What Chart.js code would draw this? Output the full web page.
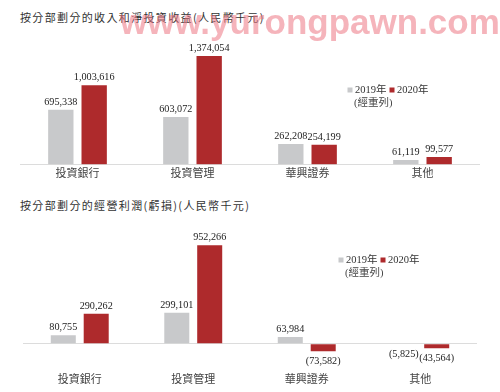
<!DOCTYPE html>
<html>
<head>
<meta charset="utf-8">
<script src="https://cdn.jsdelivr.net/npm/chart.js@4.4.1/dist/chart.umd.min.js"></script>
<style>
  html, body { margin: 0; padding: 0; background: #fff; }
  #page { position: relative; width: 500px; height: 392px; overflow: hidden; }
  .title {
    position: absolute; left: 20px; font: 11px "Noto Sans CJK TC", "Noto Sans CJK SC", sans-serif;
    letter-spacing: 1.35px; color: #333; line-height: 14px; white-space: nowrap;
  }
  canvas { position: absolute; left: 0; }
  #mark {
    position: absolute; left: 120px; top: 2px; font: bold 35px "Liberation Sans", Arial, sans-serif;
    color: rgba(236, 118, 132, 0.55); white-space: nowrap; pointer-events: none;
  }
</style>
</head>
<body>
<div id="page">
  <div class="title" id="t1" style="top:10px"></div>
  <canvas id="c1" width="500" height="190" style="top:0"></canvas>
  <div class="title" id="t2" style="top:198px"></div>
  <canvas id="c2" width="500" height="202" style="top:190px"></canvas>
  <div id="mark">www.yurongpawn.com</div>
</div>
<script>
// data (RMB thousand)
const categories = ['投資銀行', '投資管理', '華興證券', '其他'];
const revenue2019 = [695338, 603072, 262208, 61119];
const revenue2020 = [1003616, 1374054, 254199, 99577];
const profit2019 = [80755, 299101, 63984, -5825];
const profit2020 = [290262, 952266, -73582, -43564];
const seriesLabels = ['2019年', '2020年'];
const restatedNote = '(經重列)';
const titleRevenue = '按分部劃分的收入和淨投資收益(人民幣千元)';
const titleProfit = '按分部劃分的經營利潤(虧損)(人民幣千元)';

const GREY = '#c8c9cb';
const RED = '#ae2a2c';
const numFont = '"Liberation Serif", "Noto Sans CJK TC", serif';

document.getElementById('t1').textContent = titleRevenue;
document.getElementById('t2').textContent = titleProfit;

function fmt(v) {
  const s = Math.abs(v).toLocaleString('en-US');
  return v < 0 ? '(' + s + ')' : s;
}

// numbers above (or below, for losses) each bar
const valueLabels = {
  id: 'valueLabels',
  afterDatasetsDraw(chart) {
    const ctx = chart.ctx;
    ctx.save();
    ctx.font = '10.2px ' + numFont;
    ctx.fillStyle = '#222';
    ctx.textAlign = 'center';
    ctx.textBaseline = 'alphabetic';
    chart.data.datasets.forEach((ds, i) => {
      chart.getDatasetMeta(i).data.forEach((bar, j) => {
        const v = ds.data[j];
        if (v >= 0) ctx.fillText(fmt(v), bar.x, bar.y - 5);
        else ctx.fillText(fmt(v), bar.x, bar.y + 13);
      });
    });
    ctx.restore();
  }
};

// small legend sitting inside the plot
const cornerLegend = {
  id: 'cornerLegend',
  afterDraw(chart, args, opts) {
    const ctx = chart.ctx;
    const x = opts.x, y = opts.y;
    ctx.save();
    ctx.font = '10.5px ' + numFont;
    ctx.textBaseline = 'middle';
    ctx.textAlign = 'left';
    chart.data.datasets.forEach((ds, i) => {
      const sx = x + i * 42;
      ctx.fillStyle = ds.backgroundColor;
      ctx.fillRect(sx - 2.5, y - 2.5, 5, 5);
      ctx.fillStyle = '#333';
      ctx.fillText(ds.label, sx + 5, y);
    });
    ctx.fillStyle = '#444';
    ctx.fillText(restatedNote, x + 4, y + 13);
    ctx.restore();
  }
};

function makeChart(id, v19, v20, o) {
  return new Chart(document.getElementById(id), {
    type: 'bar',
    data: {
      labels: categories,
      datasets: [
        { label: seriesLabels[0], data: v19, backgroundColor: GREY },
        { label: seriesLabels[1], data: v20, backgroundColor: RED }
      ]
    },
    options: {
      responsive: false,
      animation: false,
      devicePixelRatio: 1,
      categoryPercentage: 0.58,
      barPercentage: 0.76,
      layout: { padding: o.padding },
      scales: {
        x: {
          grid: { display: false, drawTicks: false },
          border: { display: false },
          ticks: { padding: 3, color: '#444', font: { size: 11, family: numFont } }
        },
        y: {
          min: o.min, max: o.max,
          afterBuildTicks: axis => { axis.ticks = [{ value: 0 }]; },
          grid: { drawTicks: false, color: '#dcdcdc', lineWidth: 1 },
          border: { display: false },
          ticks: { display: false }
        }
      },
      plugins: {
        legend: { display: false },
        tooltip: { enabled: false },
        cornerLegend: o.legend
      }
    },
    plugins: [valueLabels, cornerLegend]
  });
}

makeChart('c1', revenue2019, revenue2020, {
  min: 0, max: 1575000,
  padding: { left: 20, right: 20, top: 40, bottom: 6 },
  legend: { x: 350, y: 90 }
});

makeChart('c2', profit2019, profit2020, {
  min: -263000, max: 1100000,
  padding: { left: 23, right: 23, top: 40, bottom: 2 },
  legend: { x: 341, y: 70 }
});
</script>
</body>
</html>
